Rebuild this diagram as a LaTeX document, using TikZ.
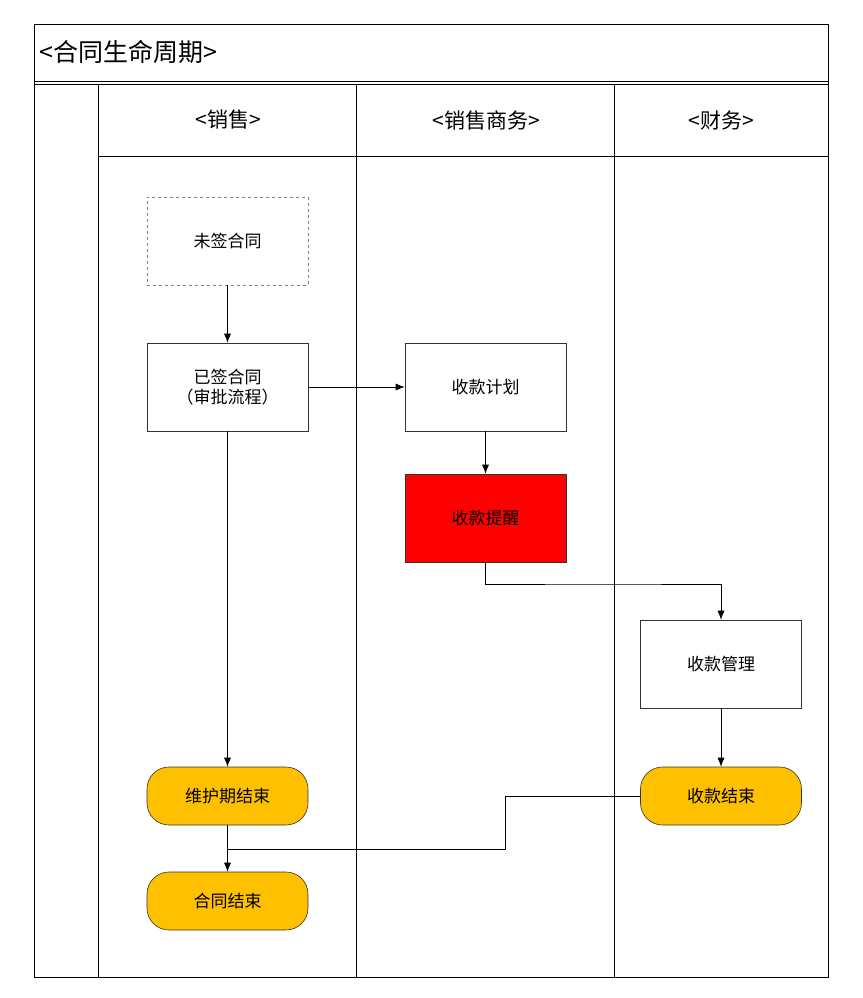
\documentclass[tikz,border=0pt]{standalone}
\usepackage{fontspec}
\setmainfont{Liberation Sans}
\newfontfamily\cjk{Noto Sans CJK SC}
\usetikzlibrary{arrows.meta}
\definecolor{endy}{HTML}{FFC000}
\begin{document}
\begin{tikzpicture}[x=1pt,y=-1pt,
  box/.style={draw=black!80,line width=0.6pt,minimum width=161pt,minimum height=88pt,inner sep=0pt,font=\cjk\fontsize{17}{20}\selectfont,align=center},
  term/.style={box,rounded corners=22pt,fill=endy,minimum height=58pt},
  arr/.style={-{Latex[length=9pt,width=7pt]},line width=0.6pt},
  hdr/.style={font=\cjk\fontsize{21}{24}\selectfont}]
\useasboundingbox (0,0) rectangle (862,998);
\draw[line width=0.8pt] (34,24) rectangle (828,977);
\draw[line width=0.6pt] (34,81) -- (828,81) (34,84) -- (828,84);
\node[anchor=west,font=\cjk\fontsize{25}{28}\selectfont] (title) at (36,52) {<合同生命周期>};
\draw[line width=0.6pt] (98,84) -- (98,977) (356,84) -- (356,977) (614,84) -- (614,977);
\draw[line width=0.6pt] (98,156) -- (828,156);
\node[hdr] (h1) at (228,120) {<销售>};
\node[hdr] (h2) at (486,120) {<销售商务>};
\node[hdr] (h3) at (721,120) {<财务>};
\node[box,dashed,draw=black!50] (a) at (227.5,241) {未签合同};
\node[box] (b) at (227.5,387) {已签合同\\（审批流程）};
\node[box] (c) at (485.5,387) {收款计划};
\node[box,fill=red] (d) at (485.5,518) {收款提醒};
\node[box] (e) at (721,664) {收款管理};
\node[term] (f) at (227.5,796) {维护期结束};
\node[term] (g) at (721,796) {收款结束};
\node[term] (h) at (227.5,901) {合同结束};
\coordinate (m) at (227.5,849);
\draw[arr] (a) -- (b);
\draw[arr] (b) -- (c);
\draw[arr] (c) -- (d);
\draw[arr] (d.south) |- (603,584) -| (e.north);
\draw[arr] (e) -- (g);
\draw[arr] (b) -- (f);
\draw[arr] (f) -- (h);
\draw[line width=0.6pt] (g.west) -- (505,796) -- (505,849) -- (m);
\end{tikzpicture}
\end{document}
